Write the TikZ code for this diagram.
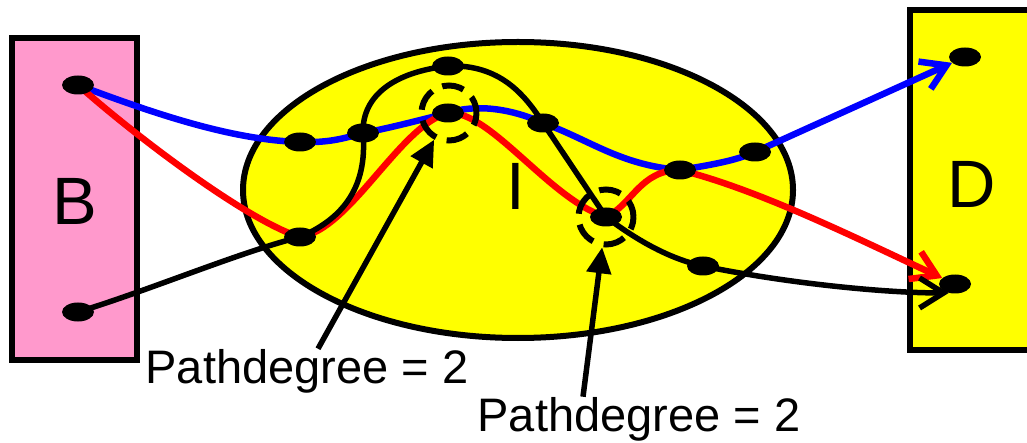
\documentclass[tikz,border=0pt]{standalone}
\usepackage{fontspec}
\setmainfont{Liberation Sans}
\usetikzlibrary{arrows.meta,shapes.geometric}
\pgfdeclarelayer{back}
\pgfdeclarelayer{mid}
\pgfsetlayers{back,mid,main}
\definecolor{pinkB}{HTML}{FF99CC}
\definecolor{yel}{HTML}{FFFF00}
\begin{document}
\begin{tikzpicture}[x=1pt,y=1pt,
  dot/.style={ellipse, fill=black, minimum width=32pt, minimum height=19pt, inner sep=0pt},
  ring/.style={circle, draw=black, line width=6pt, dash pattern=on 22pt off 11pt, dash phase=5pt, minimum size=55pt, inner sep=0pt},
  wire/.style={line width=5.5pt, black},
  bluewire/.style={line width=6.5pt, blue},
  redwire/.style={line width=6.5pt, red},
  barb/.style={-{Straight Barb[length=24pt,width=30pt]}},
  ptr/.style={line width=5.5pt, -{Triangle[length=26pt,width=24pt]}},
  big/.style={font=\fontsize{67}{80}\selectfont, inner sep=0pt, anchor=base},
  lbl/.style={font=\fontsize{47}{56}\selectfont, inner sep=0pt, anchor=base},
  box/.style={rectangle, draw=black, line width=6pt, inner sep=0pt}
]
\useasboundingbox (0,0) rectangle (1027,-443);
\clip (0,0) rectangle (1027,-443);

\begin{pgfonlayer}{back}
  \node[box, fill=pinkB, minimum width=125pt, minimum height=322pt] (boxB) at (74.5,-199) {};
  \node[box, fill=yel, minimum width=135pt, minimum height=340pt] (boxD) at (977.5,-180) {};
  \node[ellipse, draw=black, line width=6pt, fill=yel, minimum width=550pt, minimum height=296pt, inner sep=0pt] (setI) at (518,-190) {};
\end{pgfonlayer}

\node[big] (lB) at (75,-225) {B};
\node[big] (lD) at (972,-208) {D};
\node[big] (lI) at (516,-210) {I};

% dots
\node[dot] (b1) at (78,-85) {};
\node[dot] (b2) at (78,-312) {};
\node[dot] (p1) at (300,-142) {};
\node[dot] (p2) at (363,-133) {};
\node[dot] (p3) at (448,-66) {};
\node[dot] (p4) at (448,-113) {};
\node[dot] (p5) at (543,-123) {};
\node[dot] (p6) at (300,-237) {};
\node[dot] (p7) at (606,-217) {};
\node[dot] (p8) at (680,-170) {};
\node[dot] (p9) at (755,-152) {};
\node[dot] (p10) at (703,-266) {};
\node[dot] (d1) at (965,-57) {};
\node[dot] (d2) at (955,-284) {};

% dashed rings
\node[ring] (r1) at (449,-113) {};
\node[ring] (r2) at (606,-217) {};

% labels
\node[lbl] (t1) at (307,-383) {Pathdegree = 2};
\node[lbl] (t2) at (639,-431) {Pathdegree = 2};

\begin{pgfonlayer}{mid}
  % blue path
  \draw[bluewire, barb] (b1.center)
    .. controls (150,-112) and (230,-140) .. (p1.center)
    .. controls (330,-143) and (345,-138) .. (p2.center)
    .. controls (390,-128) and (420,-120) .. (p4.center)
    .. controls (475,-104) and (510,-108) .. (p5.center)
    .. controls (590,-140) and (620,-165) .. (p8.center)
    .. controls (710,-165) and (735,-161) .. (p9.center)
    -- (d1);
  % red path
  \draw[redwire, barb] (b1.center)
    .. controls (140,-140) and (250,-222) .. (p6.center)
    .. controls (350,-230) and (400,-125) .. (p4.center)
    .. controls (490,-110) and (550,-200) .. (p7.center)
    .. controls (632,-205) and (640,-170) .. (p8.center)
    .. controls (760,-190) and (860,-240) .. (d2);
  % black paths
  \draw[wire] (b2.center) .. controls (150,-290) and (240,-252) .. (p6.center);
  \draw[wire, barb] (p6.center)
    .. controls (340,-220) and (368,-190) .. (p2.center)
    .. controls (362,-95) and (395,-72) .. (p3.center)
    .. controls (500,-64) and (525,-95) .. (p5.center)
    -- (p7.center)
    .. controls (630,-235) and (665,-258) .. (p10.center)
    .. controls (780,-282) and (880,-293) .. (d2.235);
  % pointers
  \draw[ptr] ([xshift=11pt]t1.north) -- (r1);
  \draw[ptr] ([xshift=-56pt]t2.north) -- (r2);
\end{pgfonlayer}
\end{tikzpicture}
\end{document}
